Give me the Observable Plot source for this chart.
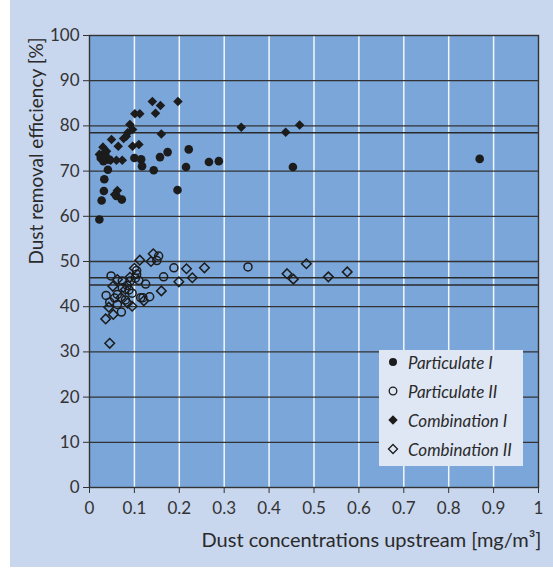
<!DOCTYPE html>
<html><head><meta charset="utf-8">
<script src="https://cdn.jsdelivr.net/npm/d3@7"></script>
<script src="https://cdn.jsdelivr.net/npm/@observablehq/plot@0.6"></script>
<style>
body{margin:0;background:#fff;font-family:Lato,sans-serif;}
#panel{position:absolute;left:10px;top:0;width:543px;height:567px;background:#c8d6ee;}
#legend{position:absolute;left:369px;top:350px;width:144px;height:116px;background:#dfe7f5;}
.row{position:absolute;left:0;height:20px;display:flex;align-items:center;font-style:italic;font-size:17px;color:#2a2a2a;}
.row svg{margin-left:8px;margin-right:9px;}
</style></head><body>
<div id="panel"></div>
<script>
// ---- data ----
const seriesNames = ["Particulate I", "Particulate II", "Combination I", "Combination II"];
const particulateI = [
  [0.022,59.3],[0.027,63.5],[0.032,65.6],[0.033,68.2],[0.041,70.3],[0.025,72.9],[0.031,72.2],
  [0.028,73.5],[0.036,73.0],[0.045,72.5],[0.039,72.6],[0.035,73.7],[0.072,63.7],[0.060,64.5],
  [0.100,72.9],[0.115,72.6],[0.117,71.1],[0.143,70.2],[0.157,73.1],[0.174,74.2],[0.196,65.8],
  [0.215,70.9],[0.221,74.8],[0.266,72.0],[0.288,72.2],[0.453,70.9],[0.869,72.7]
];
const particulateII = [
  [0.048,46.8],[0.037,42.5],[0.154,51.2],[0.105,48.0],[0.105,47.2],[0.188,48.6],[0.165,46.6],
  [0.353,48.8],[0.125,45.0],[0.134,42.2],[0.114,42.0],[0.071,38.8],[0.056,41.9],[0.073,44.2],
  [0.091,45.7],[0.088,43.7],[0.062,42.7],[0.110,45.8],[0.102,46.3],[0.073,45.7],[0.062,40.5],
  [0.084,44.7],[0.119,42.0],[0.080,41.5],[0.095,43.0],[0.150,50.2],[0.045,41.0]
];
const combinationI = [
  [0.140,85.4],[0.197,85.4],[0.158,84.5],[0.147,82.8],[0.101,82.7],[0.112,82.7],[0.090,80.3],
  [0.096,79.2],[0.160,78.2],[0.338,79.7],[0.437,78.6],[0.468,80.2],[0.049,77.0],[0.076,77.2],
  [0.082,77.7],[0.064,75.5],[0.096,75.5],[0.110,75.9],[0.030,75.3],[0.038,74.4],[0.022,73.7],
  [0.047,72.4],[0.060,72.4],[0.073,72.4],[0.062,65.7],[0.056,64.8],[0.035,73.2],[0.085,78.5]
];
const combinationII = [
  [0.045,31.9],[0.036,37.3],[0.043,39.9],[0.053,38.3],[0.095,40.1],[0.112,50.3],[0.142,51.7],
  [0.137,50.0],[0.160,43.5],[0.121,41.3],[0.199,45.5],[0.216,48.4],[0.229,46.4],[0.256,48.6],
  [0.440,47.3],[0.454,46.1],[0.483,49.5],[0.532,46.6],[0.574,47.7],[0.062,46.0],[0.080,43.8],
  [0.090,46.5],[0.100,48.5],[0.070,42.0],[0.085,40.8],[0.052,44.5]
];
const meanLines = [78.5, 46.4, 44.8];
const xTicks = [0,0.1,0.2,0.3,0.4,0.5,0.6,0.7,0.8,0.9,1];
const yTicks = [0,10,20,30,40,50,60,70,80,90,100];
const xGrid = [0.1,0.2,0.3,0.4,0.5,0.6,0.7,0.8,0.9];
const yGrid = [10,20,30,40,50,60,70,80,90];
const xLabel = "Dust concentrations upstream [mg/m³]";
const yLabel = "Dust removal efficiency [%]";

const toRows = (arr) => arr.map(([x, y]) => ({x, y}));
const ink = "#1c1c1c";
const R = 4.3;

const chart = Plot.plot({
  width: 543, height: 567,
  marginLeft: 79, marginRight: 15, marginTop: 35, marginBottom: 80,
  x: {domain: [0, 1]},
  y: {domain: [0, 100]},
  style: {fontFamily: "Lato, sans-serif", fontSize: "17px", color: "#333", background: "transparent", overflow: "visible"},
  marks: [
    Plot.frame({fill: "#7aa6d9", stroke: null}),
    Plot.ruleX(xGrid, {stroke: "#ffffff", strokeWidth: 1.5, strokeOpacity: 0.9}),
    Plot.ruleY(yGrid, {stroke: "#333", strokeWidth: 1.3}),
    Plot.ruleY(meanLines, {stroke: "#2a2a2a", strokeWidth: 1.6}),
    Plot.dot(toRows(particulateI), {x: "x", y: "y", r: R, fill: ink, stroke: null}),
    Plot.dot(toRows(combinationI), {x: "x", y: "y", r: R, symbol: "diamond2", fill: ink, stroke: null}),
    Plot.dot(toRows(particulateII), {x: "x", y: "y", r: 4, fill: "none", stroke: ink, strokeWidth: 1.5}),
    Plot.dot(toRows(combinationII), {x: "x", y: "y", r: R, symbol: "diamond2", fill: "none", stroke: ink, strokeWidth: 1.5}),
    Plot.frame({stroke: "#333", strokeWidth: 1.4}),
    Plot.axisX({ticks: xTicks, tickSize: 6, tickPadding: 8, tickFormat: d => String(d), label: null, fontSize: 17}),
    Plot.axisY({ticks: yTicks, tickSize: 6, tickPadding: 4, tickFormat: d => String(d), label: null, fontSize: 17}),
    Plot.text([xLabel], {frameAnchor: "bottom-right", text: d => d, textAnchor: "end", dy: 59, dx: 3, fontSize: 20, fill: "#2a2a2a"}),
    Plot.text([yLabel], {frameAnchor: "top-left", text: d => d, textAnchor: "end", rotate: -90, dx: -60, dy: 2, fontSize: 19, fill: "#2a2a2a"})
  ]
});
document.getElementById("panel").appendChild(chart);

// legend
const legend = document.createElement("div");
legend.id = "legend";
const symbols = [
  '<circle cx="6" cy="6" r="4" fill="#1c1c1c"/>',
  '<circle cx="6" cy="6" r="3.8" fill="none" stroke="#1c1c1c" stroke-width="1.3"/>',
  '<path d="M6 1.3L10.7 6L6 10.7L1.3 6Z" fill="#1c1c1c"/>',
  '<path d="M6 1.5L10.5 6L6 10.5L1.5 6Z" fill="none" stroke="#1c1c1c" stroke-width="1.3"/>'
];
seriesNames.forEach((name, i) => {
  const row = document.createElement("div");
  row.className = "row";
  row.style.top = (2 + i * 29) + "px";
  row.innerHTML = `<svg width="12" height="12">${symbols[i]}</svg><span>${name}</span>`;
  legend.appendChild(row);
});
document.getElementById("panel").appendChild(legend);
</script>
</body></html>
